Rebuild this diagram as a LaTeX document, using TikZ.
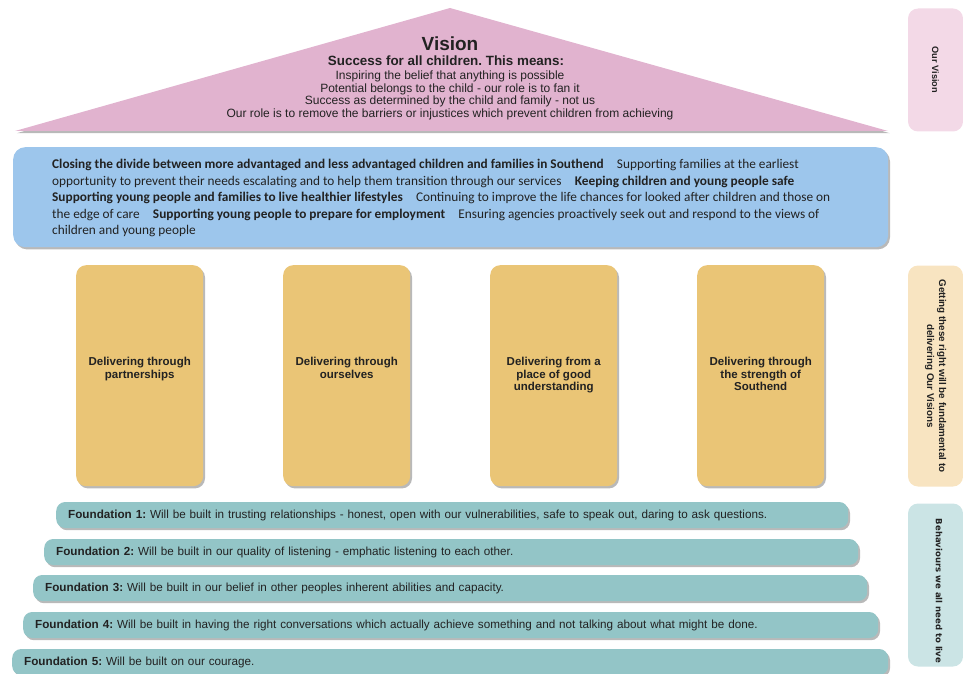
\documentclass[tikz,border=0pt]{standalone}
\usepackage{fontspec}
\setmainfont{Liberation Sans}
\newfontfamily\dinfont{Liberation Sans}
\newfontfamily\calfont{Carlito}
\newfontfamily\dvsfont{DejaVu Sans}
\usetikzlibrary{shadows}
\frenchspacing
\definecolor{visionpink}{HTML}{E1B3CF}
\definecolor{labelpink}{HTML}{F3D9E7}
\definecolor{prioblue}{HTML}{9DC6EC}
\definecolor{pillar}{HTML}{EAC576}
\definecolor{labeltan}{HTML}{F8E4C1}
\definecolor{found}{HTML}{93C5C7}
\definecolor{labelteal}{HTML}{CBE4E5}
\definecolor{ink}{HTML}{222222}
\tikzset{
  shad/.style={drop shadow={shadow xshift=1.8pt, shadow yshift=-2.2pt, opacity=.55}},
  pillarbox/.style={rectangle, rounded corners=10pt, fill=pillar, shad, minimum width=127pt, minimum height=221pt, anchor=north west},
  pillartext/.style={anchor=north, align=center, text=ink, font=\dinfont\bfseries\fontsize{11.5}{12.4}\selectfont},
  foundbar/.style={rectangle, rounded corners=9pt, fill=found, shad, minimum height=26pt, inner xsep=12pt, inner ysep=0pt, align=left, anchor=west, text=ink, font=\dinfont\fontsize{11.7}{12}\selectfont},
  sidelabel/.style={rectangle, rounded corners=10pt, rotate=-90, minimum height=55pt, inner sep=2pt, align=center, text=ink},
}
\begin{document}
\begin{tikzpicture}[x=1pt,y=-1pt]
\useasboundingbox (0,0) rectangle (963,674);
% Vision roof
\path[fill=visionpink, shad] (15,131) -- (450,8) -- (888,131) -- cycle;
\node[font=\dinfont\bfseries\fontsize{19}{19}\selectfont, text=ink] (vision) at (450,44) {Vision};
\node[font=\dinfont\bfseries\fontsize{13.4}{13.4}\selectfont, text=ink] (success) at (446,61) {Success for all children. This means:};
\node[anchor=north, align=center, font=\dinfont\fontsize{12}{12.5}\selectfont, text=ink] (means) at (450,67.5)
 {Inspiring the belief that anything is possible\\
  Potential belongs to the child - our role is to fan it\\
  Success as determined by the child and family - not us\\
  Our role is to remove the barriers or injustices which prevent children from achieving};
% priorities
\node[rectangle, rounded corners=12pt, fill=prioblue, shad, minimum width=875pt, minimum height=100pt, anchor=north west] (prio) at (13,147) {};
\node[anchor=north west, align=left, inner sep=0pt, text=ink, font=\calfont\fontsize{13.3}{16.5}\selectfont] (priotext) at (52,159)
 {\textbf{Closing the divide between more advantaged and less advantaged children and families in Southend}\quad Supporting families at the earliest\\
  opportunity to prevent their needs escalating and to help them transition through our services\quad \textbf{Keeping children and young people safe}\\
  \textbf{Supporting young people and families to live healthier lifestyles}\quad Continuing to improve the life chances for looked after children and those on\\
  the edge of care\quad \textbf{Supporting young people to prepare for employment}\quad Ensuring agencies proactively seek out and respond to the views of\\
  children and young people};
% pillars
\node[pillarbox] (p1) at (76,265) {};
\node[pillarbox] (p2) at (283,265) {};
\node[pillarbox] (p3) at (490,265) {};
\node[pillarbox] (p4) at (697,265) {};
\node[pillartext] (t1) at (p1.center |- 0,354) {Delivering through\\partnerships};
\node[pillartext] (t2) at (p2.center |- 0,354) {Delivering through\\ourselves};
\node[pillartext] (t3) at (p3.center |- 0,354) {Delivering from a\\place of good\\understanding};
\node[pillartext] (t4) at (p4.center |- 0,354) {Delivering through\\the strength of\\Southend};
% foundations
\node[foundbar, text width=768pt] (f1) at (56,515) {\textbf{Foundation 1:} Will be built in trusting relationships - honest, open with our vulnerabilities, safe to speak out, daring to ask questions.};
\node[foundbar, text width=790pt] (f2) at (44,552) {\textbf{Foundation 2:} Will be built in our quality of listening - emphatic listening to each other.};
\node[foundbar, text width=810pt] (f3) at (33,588) {\textbf{Foundation 3:} Will be built in our belief in other peoples inherent abilities and capacity.};
\node[foundbar, text width=831pt] (f4) at (23,625) {\textbf{Foundation 4:} Will be built in having the right conversations which actually achieve something and not talking about what might be done.};
\node[foundbar, text width=852pt] (f5) at (12,662) {\textbf{Foundation 5:} Will be built on our courage.};
% side labels
\node[sidelabel, fill=labelpink, minimum width=123pt, font=\dinfont\bfseries\fontsize{9.2}{11}\selectfont] (l1) at (935.5,70) {Our Vision};
\node[sidelabel, fill=labeltan, minimum width=221pt, font=\dinfont\bfseries\fontsize{9.8}{12}\selectfont] (l2) at (935.5,376) {Getting these right will be fundamental to\\delivering Our Visions};
\node[sidelabel, fill=labelteal, minimum width=163pt] (l3) at (935.5,585) {};
\node[rotate=-90, text=ink, font=\dvsfont\bfseries\fontsize{8.5}{10}\selectfont] (l3text) at (939,591) {Behaviours we all need to live};
\end{tikzpicture}
\end{document}
